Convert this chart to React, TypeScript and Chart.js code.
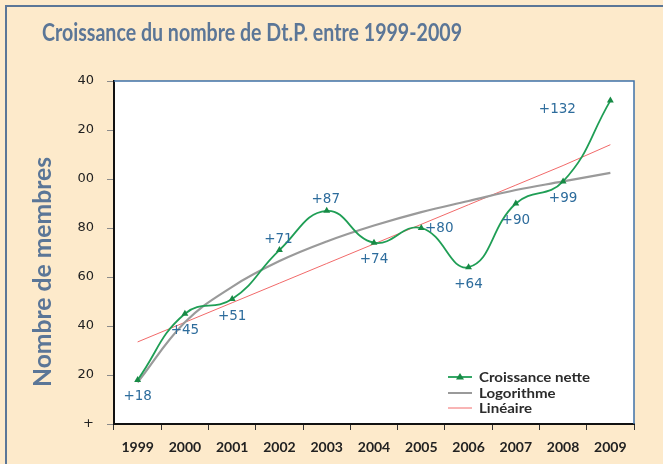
import React, { useEffect, useRef } from 'react';
import { Chart, registerables } from 'chart.js';
Chart.register(...registerables);

const years = ['1999', '2000', '2001', '2002', '2003', '2004', '2005', '2006', '2007', '2008', '2009'];
const netGrowth = [18, 45, 51, 71, 87, 74, 80, 64, 90, 99, 132];
const growthLabels = ['+18', '+45', '+51', '+71', '+87', '+74', '+80', '+64', '+90', '+99', '+132'];
const logTrend = [17, 41.5, 56, 66.5, 74.5, 81, 86.5, 91, 95.5, 99, 102.5];
const linearTrend = [33.5, 41.5, 49.5, 57.5, 65.5, 73.5, 81.5, 89.5, 97.5, 105.5, 114];
const yTickLabels = ['+', '20', '40', '60', '80', '00', '20', '40'];
const legendNames = ['Croissance nette', 'Logorithme', 'Linéaire'];
const labelPlacement = ['below', 'below', 'below', 'above', 'above', 'below', 'right', 'below', 'below', 'below', 'leftHigh'];
const titleText = 'Croissance du nombre de Dt.P. entre 1999-2009';
const yTitleText = 'Nombre de membres';

const GREEN = '#1f9e55';
const GREEN_DARK = '#178a45';
const GRAY = '#9a9a9a';
const RED = '#f26a6a';
const CREAM = '#fdeacb';
const SLATE = '#5b7697';
const LABEL_BLUE = '#2d6c9c';

const placementOffsets: Record<string, [number, number]> = {
  below: [0, 17],
  above: [-1, -11],
  right: [18, 0],
  leftHigh: [-53, 9],
};

const decor = {
  id: 'decor',
  beforeDraw(chart: any) {
    const { ctx, width, height, chartArea } = chart;
    const { left, top, right, bottom } = chartArea;
    ctx.save();
    ctx.fillStyle = CREAM;
    ctx.fillRect(0, 0, width, height);
    ctx.strokeStyle = SLATE;
    ctx.lineWidth = 2;
    ctx.beginPath();
    ctx.moveTo(6, height);
    ctx.lineTo(6, 6);
    ctx.lineTo(width, 6);
    ctx.stroke();
    ctx.fillStyle = '#ffffff';
    ctx.fillRect(left, top, right - left, bottom - top);
    ctx.restore();
  },
  afterDatasetsDraw(chart: any) {
    const { ctx } = chart;
    const meta = chart.getDatasetMeta(0);
    ctx.save();
    ctx.font = '13.5px "DejaVu Sans"';
    ctx.fillStyle = LABEL_BLUE;
    ctx.textAlign = 'center';
    ctx.textBaseline = 'middle';
    meta.data.forEach((pt: any, i: number) => {
      const [dx, dy] = placementOffsets[labelPlacement[i]];
      ctx.fillText(growthLabels[i], pt.x + dx, pt.y + dy);
    });
    ctx.restore();
  },
  afterDraw(chart: any) {
    const { ctx, chartArea } = chart;
    const { left, top, right, bottom } = chartArea;
    ctx.save();
    // top & right plot border
    ctx.strokeStyle = '#3f72a8';
    ctx.lineWidth = 1.5;
    ctx.beginPath();
    ctx.moveTo(left, top);
    ctx.lineTo(right, top);
    ctx.lineTo(right, bottom);
    ctx.stroke();

    // title
    ctx.fillStyle = SLATE;
    ctx.font = 'bold 24px Lato';
    ctx.textBaseline = 'alphabetic';
    ctx.textAlign = 'left';
    const tw = ctx.measureText(titleText).width;
    ctx.save();
    ctx.translate(42, 41);
    ctx.scale(420 / tw, 1);
    ctx.fillText(titleText, 0, 0);
    ctx.restore();

    // y title
    ctx.font = 'bold 25px Lato';
    const yw = ctx.measureText(yTitleText).width;
    ctx.save();
    ctx.translate(51, 272);
    ctx.rotate(-Math.PI / 2);
    ctx.scale(230 / yw, 1);
    ctx.textAlign = 'center';
    ctx.fillText(yTitleText, 0, 0);
    ctx.restore();

    // legend
    const colors = [GREEN, GRAY, RED];
    const widths = [1.8, 2, 1];
    const rows = [377, 393, 408];
    ctx.font = 'bold 13px Lato';
    ctx.textBaseline = 'middle';
    ctx.textAlign = 'left';
    const lw = ctx.measureText(legendNames[0]).width;
    const sx = 111 / lw;
    for (let i = 0; i < 3; i++) {
      ctx.strokeStyle = colors[i];
      ctx.lineWidth = widths[i];
      ctx.beginPath();
      ctx.moveTo(448, rows[i]);
      ctx.lineTo(472, rows[i]);
      ctx.stroke();
      if (i === 0) {
        ctx.fillStyle = GREEN_DARK;
        ctx.beginPath();
        ctx.moveTo(460, rows[i] - 4);
        ctx.lineTo(464, rows[i] + 2.5);
        ctx.lineTo(456, rows[i] + 2.5);
        ctx.closePath();
        ctx.fill();
      }
      ctx.save();
      ctx.translate(479, rows[i] + 1);
      ctx.scale(sx, 1);
      ctx.fillStyle = '#2b2b2b';
      ctx.fillText(legendNames[i], 0, 0);
      ctx.restore();
    }
    ctx.restore();
  },
};

export default function App() {
  const canvasRef = useRef<HTMLCanvasElement | null>(null);

  useEffect(() => {
    document.body.style.margin = '0';
    const canvas = canvasRef.current;
    if (!canvas) return;
    const chart = new Chart(canvas, {
      type: 'line',
      data: {
        labels: years,
        datasets: [
          {
            label: legendNames[0],
            data: netGrowth,
            borderColor: GREEN,
            backgroundColor: GREEN_DARK,
            borderWidth: 1.8,
            tension: 0.45,
            pointStyle: 'triangle',
            pointRadius: 4,
            pointBorderWidth: 0,
            pointBackgroundColor: GREEN_DARK,
            fill: false,
          },
          {
            label: legendNames[1],
            data: logTrend,
            borderColor: GRAY,
            borderWidth: 2.2,
            tension: 0.4,
            pointRadius: 0,
            fill: false,
          },
          {
            label: legendNames[2],
            data: linearTrend,
            borderColor: RED,
            borderWidth: 1,
            tension: 0,
            pointRadius: 0,
            fill: false,
          },
        ],
      },
      options: {
        animation: false,
        responsive: true,
        maintainAspectRatio: false,
        layout: { padding: { top: 81, right: 29, left: 0, bottom: 0 } },
        plugins: {
          legend: { display: false },
          title: { display: false },
          tooltip: { enabled: false },
        },
        scales: {
          x: {
            type: 'category',
            offset: true,
            afterFit: (s: any) => {
              s.height = 40;
            },
            grid: {
              offset: true,
              drawOnChartArea: false,
              drawTicks: true,
              tickLength: 6,
              color: '#333',
            },
            border: { display: true, color: '#111', width: 2 },
            ticks: {
              padding: 9,
              color: '#222',
              font: { family: 'Lato', weight: 'bold', size: 14 },
              maxRotation: 0,
              autoSkip: false,
            },
          },
          y: {
            min: 0,
            max: 140,
            afterFit: (s: any) => {
              s.width = 114;
            },
            grid: {
              drawOnChartArea: false,
              drawTicks: true,
              tickLength: 7,
              color: '#8a8a8a',
            },
            border: { display: true, color: '#111', width: 2 },
            ticks: {
              stepSize: 20,
              padding: 13,
              color: '#222',
              font: { family: 'DejaVu Sans', size: 13 },
              callback: (_v: any, i: number) => yTickLabels[i],
            },
          },
        },
      },
      plugins: [decor],
    });
    return () => chart.destroy();
  }, []);

  return (
    <div style={{ position: 'relative', width: 663, height: 464 }}>
      <canvas ref={canvasRef} />
    </div>
  );
}
